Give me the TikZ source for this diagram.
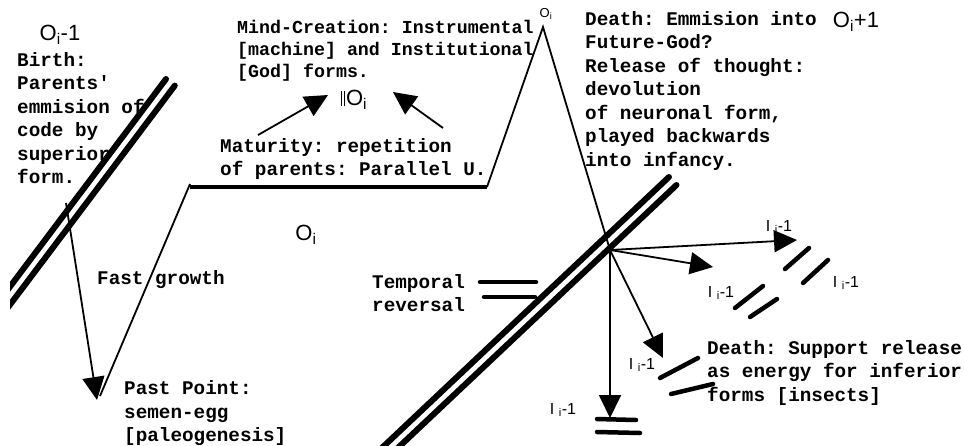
\documentclass[tikz,border=0pt]{standalone}
\usepackage{fontspec}
\setmainfont{Liberation Serif}
\newfontfamily\monofam{Liberation Mono}
\newfontfamily\arfam{Liberation Sans}
\usetikzlibrary{arrows.meta}
\frenchspacing
\begin{document}
\begin{tikzpicture}[x=1pt,y=-1pt,
  txt/.style={font=\monofam\bfseries\fontsize{19.3}{23.5}\selectfont\frenchspacing, align=left, anchor=north west, inner sep=0pt},
  txts/.style={font=\monofam\bfseries\fontsize{18.3}{22}\selectfont\frenchspacing, align=left, anchor=north west, inner sep=0pt},
  big/.style={font=\arfam\fontsize{22}{24}\selectfont, inner sep=0pt},
  lbl/.style={font=\arfam\fontsize{16}{18}\selectfont, inner sep=0pt},
  thinln/.style={line width=1.8pt},
  thickln/.style={line width=3.5pt},
  stroke/.style={line width=6pt, line cap=round},
  bar/.style={line width=4.5pt, line cap=round},
  arr/.style={line width=1.8pt, -{Triangle[length=23pt,width=22pt]}}
]
\useasboundingbox (0,0) rectangle (964,445);

% left double line
\begin{scope}
\clip (10,0) rectangle (964,445);
\draw[stroke] (166,79) -- (0,300);
\draw[stroke] (174.8,85.6) -- (0,318);
\end{scope}
% right double line
\draw[stroke] (669,177) -- (376.5,453);
\draw[stroke] (676.5,185) -- (384,461);

% coordinates
\coordinate (birthpt) at (66,203);
\coordinate (past) at (97,400);
\coordinate (vbot) at (100,396);
\coordinate (vtop) at (190,184);
\coordinate (hl) at (190,187);
\coordinate (hr) at (487,187);
\coordinate (apex) at (543,27);
\coordinate (C) at (610,250);
\coordinate (t1) at (797,240);
\coordinate (t2) at (713,267);
\coordinate (t3) at (663,358);
\coordinate (t4) at (610,418);
\coordinate (m1s) at (258,135);
\coordinate (m1e) at (328,95);
\coordinate (m2s) at (443,128);
\coordinate (m2e) at (393,92);

% life path
\draw[thinln] (vbot) -- (vtop);
\draw[thickln] (hl) -- (hr);
\draw[thinln, line join=miter] (hr) -- (apex) -- (C);
\draw[arr] (birthpt) -- (past);
\draw[arr] (m1s) -- (m1e);
\draw[arr] (m2s) -- (m2e);

% radiating arrows
\draw[arr] (C) -- (t1);
\draw[arr] (C) -- (t2);
\draw[arr] (C) -- (t3);
\draw[arr] (C) -- (t4);

% pairs of bars
\draw[bar] (785,269) -- (809,248);
\draw[bar] (803,283) -- (828,260);
\draw[bar] (735,308) -- (763,286);
\draw[bar] (750,317) -- (777,299);
\draw[bar] (660,378) -- (698,358);
\draw[bar] (671,394) -- (713,384);
\draw[bar] (597,419) -- (636,420);
\draw[bar] (597,432) -- (640,433);
% temporal reversal bars
\draw[bar] (480,282) -- (536,282);
\draw[bar] (484,297) -- (535,297);

% texts
\node[txt] (birth) at (17,49.5) {\strut Birth:\\Parents'\\emmision of\\code by\\superior\\form.};
\node[txts] (mind) at (237,18.3) {\strut Mind-Creation: Instrumental\\{[machine]} and Institutional\\{[God]} forms.};
\node[txt] (matur) at (220,135.5) {\strut Maturity: repetition\\of parents: Parallel U.};
\node[txt] (deathE) at (585,8.5) {\strut Death: Emmision into\\Future-God?\\Release of thought:\\devolution\\of neuronal form,\\played backwards\\into infancy.};
\node[txt] (fast) at (97,267.5) {\strut Fast growth};
\node[txt] (pastt) at (124,378) {\strut Past Point:\\semen-egg\\{[paleogenesis]}};
\node[txt] (temp) at (372,271.5) {\strut Temporal\\reversal};
\node[txt] (deathS) at (707,337.5) {\strut Death: Support release\\as energy for inferior\\forms [insects]};

% sans labels
\node[big] (Oim) at (60,35) {O\textsubscript{i}-1};
\node[big] (Oip) at (856,22) {O\textsubscript{i}+1};
\node[big] (Oimid) at (306,235) {O\textsubscript{i}};
\node[font=\arfam\fontsize{13}{14}\selectfont, inner sep=0pt] (Oapex) at (546,14) {O\textsubscript{i}};
\node[big] (IIO) at (354,100) {\rule{1.4pt}{15pt}\kern1.5pt\rule{1.4pt}{15pt}\kern1pt O\textsubscript{i}};
\node[lbl] (L1) at (779,227) {I\ \textsubscript{i}-1};
\node[lbl] (L2) at (846,283) {I\ \textsubscript{i}-1};
\node[lbl] (L3) at (721,293) {I\ \textsubscript{i}-1};
\node[lbl] (L4) at (642,365) {I\ \textsubscript{i}-1};
\node[lbl] (L5) at (563,410) {I\ \textsubscript{i}-1};
\end{tikzpicture}
\end{document}
